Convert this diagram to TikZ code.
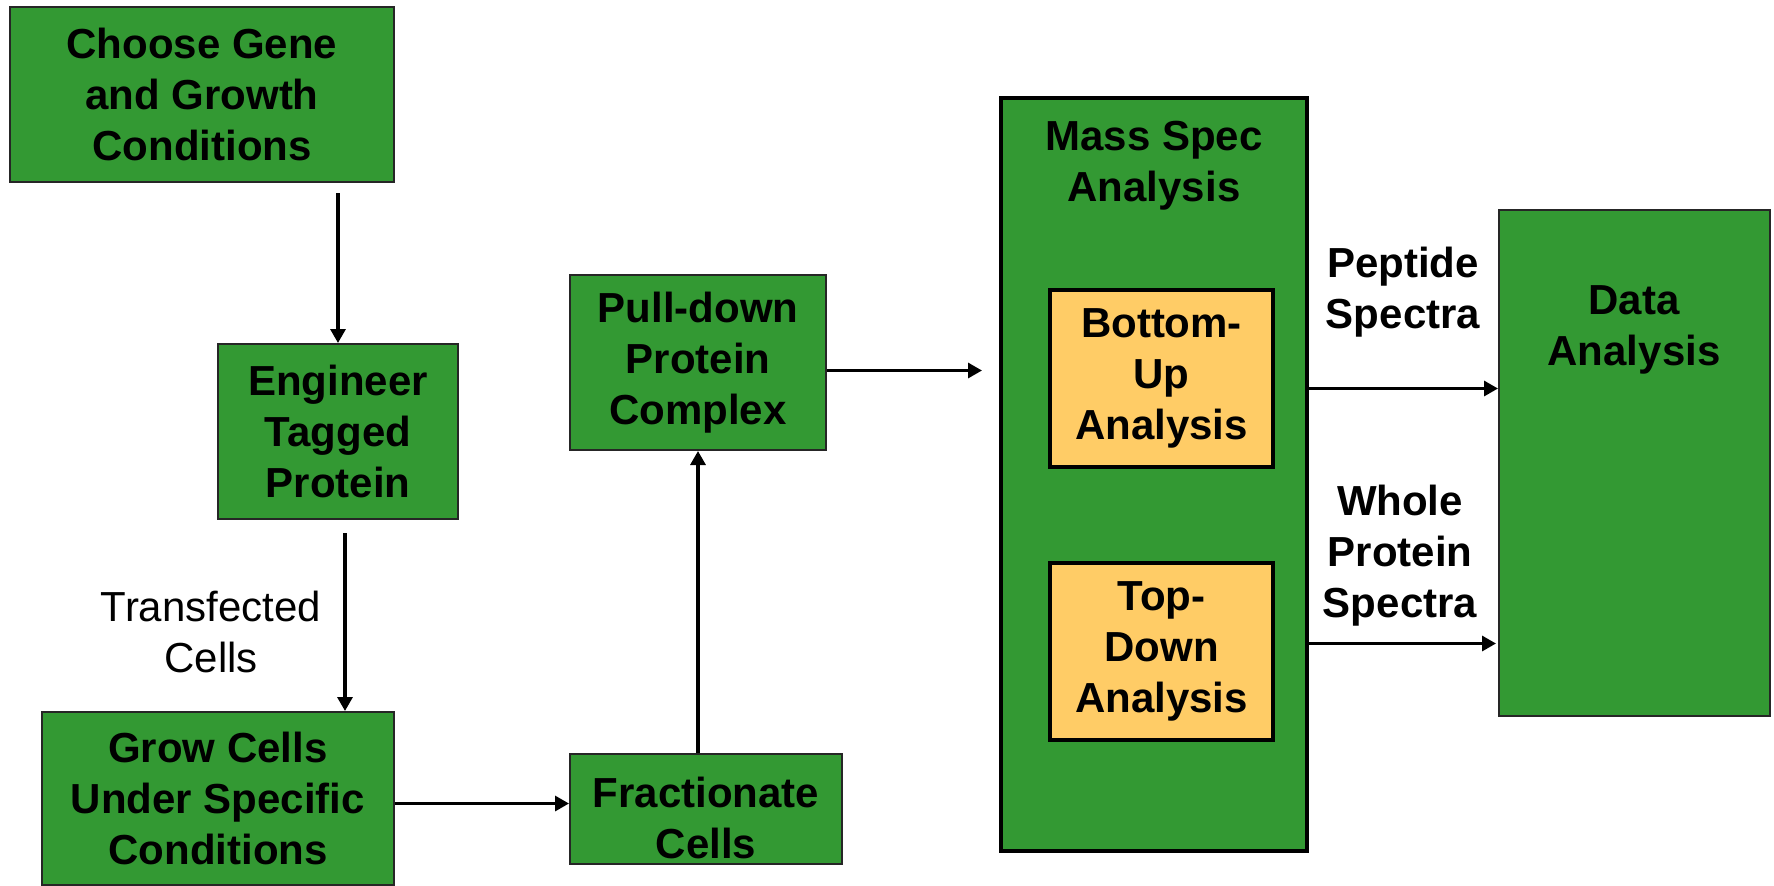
\documentclass[tikz,border=0pt]{standalone}
\usepackage{fontspec}
\setmainfont{Liberation Sans}
\usetikzlibrary{arrows.meta}
\definecolor{boxgreen}{HTML}{339933}
\definecolor{boxorange}{HTML}{FFCC66}
\begin{document}
\begin{tikzpicture}[x=0.5pt,y=-0.5pt,
  txt/.style={font=\bfseries\fontsize{21}{25.5}\selectfont,align=center},
  gbox/.style={txt,draw=black!85,line width=1pt,fill=boxgreen,inner sep=0pt},
  msbox/.style={draw=black,line width=2pt,fill=boxgreen,inner sep=0pt},
  obox/.style={txt,draw=black,line width=2pt,fill=boxorange,inner sep=0pt},
  arr/.style={-{Triangle[length=7pt,width=7.5pt]},line width=1.6pt},
  plain/.style={font=\fontsize{21}{25.5}\selectfont,align=center}
]
\useasboundingbox (0,0) rectangle (1774,885);

% boxes
\node[gbox,minimum width=192pt,minimum height=87.5pt] (b1) at (202,94.5)
  {Choose Gene\\and Growth\\Conditions};
\node[gbox,minimum width=120pt,minimum height=87.5pt] (b2) at (338,431.5)
  {Engineer\\Tagged\\Protein};
\node[gbox,minimum width=176pt,minimum height=86.5pt] (b3) at (218,798.5)
  {Grow Cells\\Under Specific\\Conditions};
\node[gbox,minimum width=136pt,minimum height=55pt] (b4) at (706,809) {};
\node[txt] (b4t) at (706,818) {Fractionate\\Cells};
\node[gbox,minimum width=128pt,minimum height=87.5pt] (b5) at (698,362.5)
  {Pull-down\\Protein\\Complex};
\node[msbox,minimum width=153pt,minimum height=376.5pt] (ms) at (1154,474.5) {};
\node[txt] (mst) at (1154,166) {Mass Spec\\Analysis};
\node[obox,minimum width=111.5pt,minimum height=88.5pt] (bu) at (1161.5,378.5)
  {Bottom-\\Up\\Analysis};
\node[obox,minimum width=111.5pt,minimum height=88.5pt] (td) at (1161.5,651)
  {Top-\\Down\\Analysis};
\node[gbox,minimum width=135.5pt,minimum height=253pt] (da) at (1634.5,463) {};
\node[txt] (dat) at (1634,330) {Data\\Analysis};

% labels
\node[plain] (tc) at (211,632) {Transfected\\Cells};
\node[txt] (ps) at (1403,292) {Peptide\\Spectra};
\node[txt] (wps) at (1400,556) {Whole\\Protein\\Spectra};

% connectors
\draw[arr] ([yshift=-5pt]b1.south -| b2.north) -- (b2.north);
\draw[arr] ([xshift=3.5pt,yshift=-6.5pt]b2.south) -- ([xshift=3.5pt]b2.south |- b3.north);
\draw[arr] ([yshift=-2.5pt]b3.east) -- ([yshift=-2.5pt]b3.east -| b4.west);
\draw[arr] (b4.north -| b5.south) -- (b5.south);
\draw[arr,shorten >=8.5pt] ([yshift=-4pt]b5.east) -- ([yshift=-4pt]b5.east -| ms.west);
\draw[arr] ([yshift=43pt]ms.east) -- ([yshift=43pt]ms.east -| da.west);
\draw[arr,shorten >=1pt] ([yshift=-84.5pt]ms.east) -- ([yshift=-84.5pt]ms.east -| da.west);
\end{tikzpicture}
\end{document}
